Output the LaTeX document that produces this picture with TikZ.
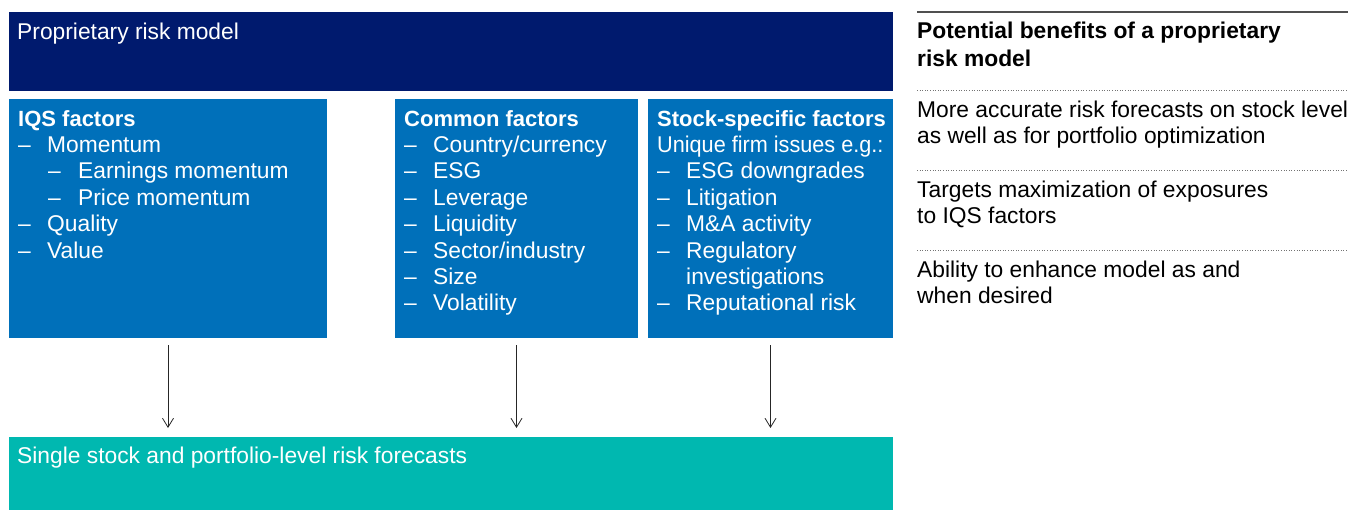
\documentclass[tikz,border=0pt]{standalone}
\usepackage{graphicx}
\usepackage{fontspec}
\setmainfont{Liberation Sans}
\usetikzlibrary{positioning,arrows.meta}

\definecolor{modelnavy}{RGB}{0,26,110}
\definecolor{factorblue}{RGB}{0,112,186}
\definecolor{forecastteal}{RGB}{0,184,176}
\definecolor{rulegray}{RGB}{80,80,80}

\newcommand{\dashitem}[1]{\makebox[29pt][l]{--}#1}
\newcommand{\subdashitem}[1]{\hspace*{30pt}\makebox[30pt][l]{--}#1}
\newcommand{\boxhead}[1]{{\fontsize{22}{26.4}\selectfont\bfseries #1}}

\begin{document}
\begin{tikzpicture}[x=1pt,y=-1pt,
    every path/.style={>={Straight Barb[length=9pt,width=11pt]}},
    box/.style={anchor=north west,inner sep=0pt,outer sep=0pt},
    % first line is 20pt high, so the node top sits 20pt over the first baseline
    boxtext/.style={anchor=north west,inner sep=0pt,align=left,text=white,
                    font=\fontsize{22.8}{26.4}\selectfont,
                    execute at begin node={\rule{0pt}{20pt}}},
    sidetext/.style={anchor=north west,inner sep=0pt,align=left,
                     font=\fontsize{22.8}{26.4}\selectfont,
                     execute at begin node={\rule{0pt}{20pt}}},
    flow/.style={->,draw=black!85,line width=0.8pt,shorten <=7pt,shorten >=9pt},
    dotrule/.style={black!55,dotted,line width=0.6pt}]
  \useasboundingbox (0,0) rectangle (1348,510);

  % boxes
  \node[box,fill=modelnavy,minimum width=884pt,minimum height=79pt]    (model)  at (9,12)  {};
  \node[box,fill=factorblue,minimum width=318pt,minimum height=239pt]  (iqs)    at (9,99)  {};
  \node[box,fill=factorblue,minimum width=243pt,minimum height=239pt]  (common) at (395,99) {};
  \node[box,fill=factorblue,minimum width=245pt,minimum height=239pt]  (stock)  at (648,99) {};
  \node[box,fill=forecastteal,minimum width=884pt,minimum height=73pt] (output) at (9,437) {};

  % box texts
  \node[boxtext] (modeltxt) at ([xshift=8pt,yshift=-7pt]model.north west) {Proprietary risk model};
  \node[boxtext] (iqstxt) at ([xshift=9pt,yshift=-11pt]iqs.north west)
    {\boxhead{IQS factors}\\ \dashitem{Momentum}\\ \subdashitem{Earnings momentum}\\
     \subdashitem{Price momentum}\\ \dashitem{Quality}\\ \dashitem{Value}};
  \node[boxtext] (commontxt) at ([xshift=9pt,yshift=-11pt]common.north west)
    {\boxhead{Common factors}\\ \dashitem{Country/currency}\\ \dashitem{ESG}\\
     \dashitem{Leverage}\\ \dashitem{Liquidity}\\ \dashitem{Sector/industry}\\
     \dashitem{Size}\\ \dashitem{Volatility}};
  \node[boxtext] (stocktxt) at ([xshift=9pt,yshift=-11pt]stock.north west)
    {\boxhead{Stock-specific factors}\\ \scalebox{0.95}[1]{Unique firm issues e.g.:}\\
     \dashitem{ESG downgrades}\\ \dashitem{Litigation}\\ \dashitem{M\&A activity}\\
     \dashitem{Regulatory}\\ \hspace*{29pt}investigations\\ \dashitem{Reputational risk}};
  \node[boxtext] (outputtxt) at ([xshift=8pt,yshift=-6pt]output.north west)
    {Single stock and portfolio-level risk forecasts};

  % arrows
  \draw[flow] (iqs.south) -- (iqs.south |- output.north);
  \draw[flow] (common.south) -- (common.south |- output.north);
  \draw[flow] (stock.south) -- (stock.south |- output.north);

  % benefits panel
  \draw[rulegray,line width=1.6pt] (917,12) -- (1348,12);
  \node[sidetext,font=\fontsize{22.8}{28}\selectfont\bfseries] (benefits) at (917,21.5)
    {Potential benefits of a proprietary\\ risk model};
  \draw[dotrule] (917,90.7) -- (1348,90.7);
  \node[sidetext] (accurate) at (917,100.5)
    {More accurate risk forecasts on stock level\\ as well as for portfolio optimization};
  \draw[dotrule] (917,170.7) -- (1348,170.7);
  \node[sidetext] (targets) at (917,180.3)
    {Targets maximization of exposures\\ to IQS factors};
  \draw[dotrule] (917,250) -- (1348,250);
  \node[sidetext] (ability) at (917,260.5)
    {Ability to enhance model as and\\ when desired};
\end{tikzpicture}
\end{document}
